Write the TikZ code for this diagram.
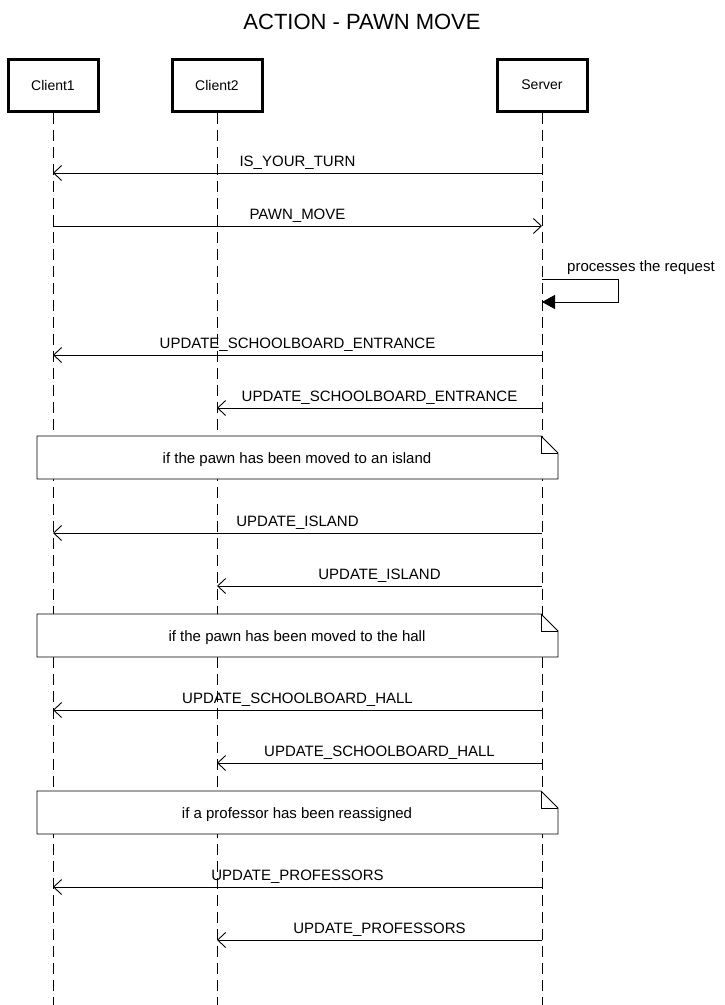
\documentclass[tikz,border=0pt]{standalone}
\usepackage{fontspec}
\setmainfont{Liberation Sans}
\usetikzlibrary{arrows.meta}

\tikzset{
  actor/.style={draw=black, line width=3pt, fill=white, minimum width=90pt,
    minimum height=52pt, inner sep=0pt, font=\fontsize{14}{16}\selectfont},
  lifeline/.style={draw=black, line width=0.9pt, dash pattern=on 11pt off 6pt},
  msg/.style={draw=black, line width=0.9pt,
    -{Straight Barb[length=8pt,width=15pt,line width=0.9pt]}},
  selfmsg/.style={draw=black, line width=0.9pt, -{Triangle[length=13pt,width=14pt]}},
  msgtext/.style={inner sep=0pt, text depth=0pt, font=\fontsize{15}{17}\selectfont},
  notebox/.style={draw=black, line width=0.9pt, fill=white, line join=miter},
}

\begin{document}
\begin{tikzpicture}[x=1pt, y=1pt, yscale=-1]
  \useasboundingbox (0,0) rectangle (724,1005);

  % title
  \node[font=\fontsize{22}{25}\selectfont] (title) at (362,22) {ACTION - PAWN MOVE};

  % participants
  \node[actor] (client1) at (53,85) {Client1};
  \node[actor] (client2) at (217,85) {Client2};
  \node[actor] (server) at (542,85) {Server};
  \coordinate (client1end) at (53,1005);
  \coordinate (client2end) at (217,1005);
  \coordinate (serverend) at (542,1005);
  \draw[lifeline] (client1.south) -- (client1end);
  \draw[lifeline] (client2.south) -- (client2end);
  \draw[lifeline] (server.south) -- (serverend);

  % turn and move
  \coordinate (s1) at (542,173); \coordinate (c1a) at (53,173);
  \draw[msg] (s1) -- (c1a) node[midway, above=6pt, msgtext] (text1) {IS\_YOUR\_TURN};
  \coordinate (c1b) at (53,226); \coordinate (s2) at (542,226);
  \draw[msg] (c1b) -- (s2) node[midway, above=6pt, msgtext] (text2) {PAWN\_MOVE};

  % server works on it
  \coordinate (s3) at (542,279); \coordinate (s3r) at (618,279);
  \coordinate (s4r) at (618,302); \coordinate (s4) at (542,302);
  \draw[selfmsg] (s3) -- (s3r) -- (s4r) -- (s4);
  \node[msgtext, anchor=base west] (text3) at (567,271) {processes the request};

  % entrance
  \coordinate (s5) at (542,355); \coordinate (c1c) at (53,355);
  \draw[msg] (s5) -- (c1c) node[midway, above=6pt, msgtext] (text4) {UPDATE\_SCHOOLBOARD\_ENTRANCE};
  \coordinate (s6) at (542,408); \coordinate (c2a) at (217,408);
  \draw[msg] (s6) -- (c2a) node[midway, above=6pt, msgtext] (text5) {UPDATE\_SCHOOLBOARD\_ENTRANCE};

  % note: island
  \path[notebox] (37,436) -- (541,436) -- (558,453) -- (558,479) -- (37,479) -- cycle;
  \draw[line width=0.9pt] (541,436) -- (541,453) -- (558,453);
  \node[msgtext, anchor=base] (note1) at (297,463) {if the pawn has been moved to an island};

  \coordinate (s7) at (542,533); \coordinate (c1d) at (53,533);
  \draw[msg] (s7) -- (c1d) node[midway, above=6pt, msgtext] (text6) {UPDATE\_ISLAND};
  \coordinate (s8) at (542,586); \coordinate (c2b) at (217,586);
  \draw[msg] (s8) -- (c2b) node[midway, above=6pt, msgtext] (text7) {UPDATE\_ISLAND};

  % note: hall
  \path[notebox] (37,614) -- (541,614) -- (558,631) -- (558,657) -- (37,657) -- cycle;
  \draw[line width=0.9pt] (541,614) -- (541,631) -- (558,631);
  \node[msgtext, anchor=base] (note2) at (297,641) {if the pawn has been moved to the hall};

  \coordinate (s9) at (542,710); \coordinate (c1e) at (53,710);
  \draw[msg] (s9) -- (c1e) node[midway, above=6pt, msgtext] (text8) {UPDATE\_SCHOOLBOARD\_HALL};
  \coordinate (s10) at (542,763); \coordinate (c2c) at (217,763);
  \draw[msg] (s10) -- (c2c) node[midway, above=6pt, msgtext] (text9) {UPDATE\_SCHOOLBOARD\_HALL};

  % note: professors
  \path[notebox] (37,791) -- (541,791) -- (558,808) -- (558,834) -- (37,834) -- cycle;
  \draw[line width=0.9pt] (541,791) -- (541,808) -- (558,808);
  \node[msgtext, anchor=base] (note3) at (297,818) {if a professor has been reassigned};

  \coordinate (s11) at (542,887); \coordinate (c1f) at (53,887);
  \draw[msg] (s11) -- (c1f) node[midway, above=6pt, msgtext] (text10) {UPDATE\_PROFESSORS};
  \coordinate (s12) at (542,940); \coordinate (c2d) at (217,940);
  \draw[msg] (s12) -- (c2d) node[midway, above=6pt, msgtext] (text11) {UPDATE\_PROFESSORS};
\end{tikzpicture}
\end{document}
